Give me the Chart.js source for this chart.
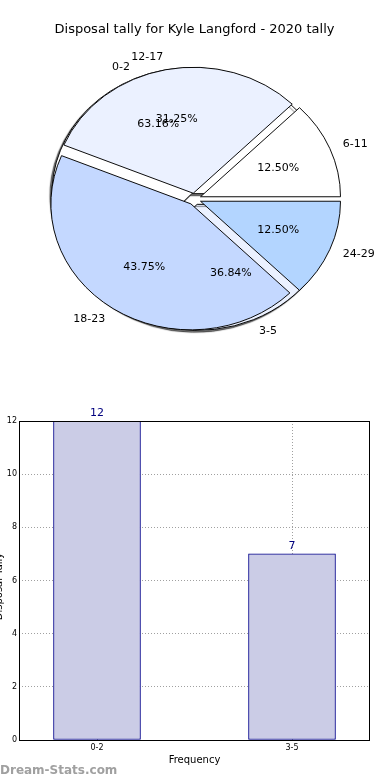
<!DOCTYPE html>
<html>
<head>
<meta charset="utf-8">
<script src="https://cdn.jsdelivr.net/npm/chart.js@4/dist/chart.umd.min.js"></script>
<style>
  html, body { margin: 0; padding: 0; background: #fff; }
  #wrap { position: relative; width: 390px; height: 780px; overflow: hidden; }
  canvas { position: absolute; left: 0; }
</style>
</head>
<body>
<div id="wrap">
  <canvas id="pieInner" width="390" height="398" style="top:0"></canvas>
  <canvas id="pieOuter" width="390" height="398" style="top:0"></canvas>
  <canvas id="bars" width="390" height="384" style="top:396px"></canvas>
</div>
<script>
'use strict';

const TITLE = 'Disposal tally for Kyle Langford - 2020 tally';

const INNER_LABELS = ['0-2', '3-5'];
const INNER_VALUES = [12, 7];
const INNER_COLORS = ['#ffffff', '#ebf1ff'];

const OUTER_LABELS = ['6-11', '12-17', '18-23', '24-29'];
const OUTER_VALUES = [2, 5, 7, 2];
const OUTER_COLORS = ['#ffffff', '#ebf1ff', '#c4d8ff', '#b3d5ff'];

const BAR_LABELS = ['0-2', '3-5'];
const BAR_VALUES = [12, 7];

const Y_SCALE = 0.9;   // pie is drawn a bit flatter than wide
const EXPLODE = 6.5;   // px each wedge is pushed out

Chart.defaults.font.family = '"DejaVu Sans", sans-serif';
Chart.defaults.color = '#000';

// matplotlib goes counter-clockwise from 3 o'clock, chart.js clockwise -> reverse
const rev = a => a.slice().reverse();

// chart.js "offset" also grows big arcs, so explode by translating each arc instead
function explodeArcs(chart) {
  chart.getDatasetMeta(0).data.forEach(arc => {
    if (arc._exploded) return;
    arc._exploded = true;
    const base = arc.draw;
    arc.draw = function (ctx) {
      const mid = (this.startAngle + this.endAngle) / 2;
      ctx.save();
      ctx.translate(Math.cos(mid) * EXPLODE, Math.sin(mid) * EXPLODE);
      base.call(this, ctx);
      ctx.restore();
    };
  });
}

const squash = shadow => ({
  id: 'squash',
  beforeDatasetsDraw(chart) {
    explodeArcs(chart);
    const a = chart.chartArea, ctx = chart.ctx;
    const cy = (a.top + a.bottom) / 2;
    ctx.save();
    ctx.translate(0, cy);
    ctx.scale(1, Y_SCALE);
    ctx.translate(0, -cy);
    if (shadow) {
      ctx.shadowColor = 'rgba(0,0,0,0.55)';
      ctx.shadowOffsetX = -2;
      ctx.shadowOffsetY = 2;
      ctx.shadowBlur = 1;
    }
  },
  afterDatasetsDraw(chart) {
    chart.ctx.restore();
  }
});

function drawPieText(ctx, chart) {
  const meta = chart.getDatasetMeta(0);
  const vals = chart.data.datasets[0].data;
  const total = vals.reduce((s, v) => s + v, 0);
  ctx.save();
  ctx.font = '11px "DejaVu Sans"';
  ctx.fillStyle = '#000';
  ctx.textBaseline = 'middle';
  meta.data.forEach((arc, i) => {
    const p = arc.getProps(['x', 'y', 'startAngle', 'endAngle', 'outerRadius'], true);
    const mid = (p.startAngle + p.endAngle) / 2;
    const c = Math.cos(mid), s = Math.sin(mid);
    const r1 = EXPLODE + 1.1 * p.outerRadius;
    ctx.textAlign = c > 0 ? 'left' : 'right';
    ctx.fillText(chart.data.labels[i], p.x + c * r1, p.y + s * r1 * Y_SCALE);
    const r2 = EXPLODE + 0.6 * p.outerRadius;
    ctx.textAlign = 'center';
    ctx.fillText((vals[i] / total * 100).toFixed(2) + '%', p.x + c * r2, p.y + s * r2 * Y_SCALE);
  });
  ctx.restore();
}

const pieOpts = (padding, title) => ({
  responsive: false,
  animation: false,
  rotation: 90,
  radius: 140,
  layout: { padding: padding },
  plugins: {
    legend: { display: false },
    tooltip: { enabled: false },
    title: title
  }
});

const innerChart = new Chart(document.getElementById('pieInner'), {
  type: 'pie',
  data: {
    labels: rev(INNER_LABELS),
    datasets: [{
      data: rev(INNER_VALUES),
      backgroundColor: rev(INNER_COLORS),
      borderColor: '#000',
      borderWidth: 1
    }]
  },
  options: pieOpts({ top: 37.6, bottom: 37.6, right: 1 }, { display: false }),
  plugins: [squash(true)]
});

new Chart(document.getElementById('pieOuter'), {
  type: 'pie',
  data: {
    labels: rev(OUTER_LABELS),
    datasets: [{
      data: rev(OUTER_VALUES),
      backgroundColor: rev(OUTER_COLORS),
      borderColor: '#000',
      borderWidth: 1
    }]
  },
  options: pieOpts({ bottom: 37.6, right: 1 }, {
    display: true,
    text: TITLE,
    font: { size: 13, weight: 'normal' },
    color: '#000',
    padding: { top: 22, bottom: 0 }
  }),
  plugins: [squash(false), {
    id: 'pieText',
    afterDraw(chart) {
      drawPieText(chart.ctx, innerChart);
      drawPieText(chart.ctx, chart);
    }
  }]
});

// ---- bar chart ----
const barExtras = {
  id: 'barExtras',
  afterDraw(chart) {
    const ctx = chart.ctx, a = chart.chartArea;
    ctx.save();
    ctx.strokeStyle = '#000';
    ctx.lineWidth = 1;
    ctx.strokeRect(a.left + 0.5, a.top + 0.5, a.right - a.left - 1, a.bottom - a.top);

    ctx.fillStyle = '#00007f';
    ctx.font = '11px "DejaVu Sans"';
    ctx.textAlign = 'center';
    ctx.textBaseline = 'bottom';
    chart.getDatasetMeta(0).data.forEach((bar, i) => {
      ctx.fillText(String(BAR_VALUES[i]), bar.x, bar.y - 2);
    });

    // y title sits mostly off the left edge, as in the original
    ctx.fillStyle = '#000';
    ctx.font = '10px "DejaVu Sans"';
    ctx.textBaseline = 'middle';
    ctx.translate(-1, (a.top + a.bottom) / 2 + 6);
    ctx.rotate(-Math.PI / 2);
    ctx.fillText('Disposal Tally', 0, 0);
    ctx.restore();

    ctx.save();
    ctx.fillStyle = '#a0a0a0';
    ctx.font = 'bold 12px "DejaVu Sans"';
    ctx.textAlign = 'left';
    ctx.textBaseline = 'middle';
    ctx.fillText('Dream-Stats.com', 0, 375);
    ctx.restore();
  }
};

new Chart(document.getElementById('bars'), {
  type: 'bar',
  data: {
    datasets: [{
      data: BAR_VALUES.map((v, i) => ({ x: i, y: v })),
      backgroundColor: '#cbcce6',
      borderColor: '#00008b',
      borderWidth: 1,
      borderSkipped: false,
      barThickness: 87
    }]
  },
  options: {
    responsive: false,
    animation: false,
    layout: { padding: { top: 25, right: 20 } },
    plugins: { legend: { display: false }, tooltip: { enabled: false } },
    scales: {
      x: {
        type: 'linear',
        min: -0.4,
        max: 1.4,
        offset: false,
        z: 1,
        afterBuildTicks: s => { s.ticks = BAR_LABELS.map((l, i) => ({ value: i })); },
        afterFit: s => { s.height = 40; },
        ticks: {
          callback: v => BAR_LABELS[v],
          font: { size: 8 },
          color: '#000',
          padding: 3,
          maxRotation: 0
        },
        grid: { color: '#a0a0a0', drawTicks: false, offset: false },
        border: { display: false, dash: [1, 2] },
        title: {
          display: true,
          text: 'Frequency',
          font: { size: 10 },
          color: '#000',
          padding: { top: 0, bottom: 14 }
        }
      },
      y: {
        min: 0,
        max: 12,
        z: 1,
        afterFit: s => { s.width = 19; },
        ticks: { stepSize: 2, font: { size: 8 }, color: '#000', padding: 2 },
        grid: { color: '#a0a0a0', drawTicks: false },
        border: { display: false, dash: [1, 2] }
      }
    }
  },
  plugins: [barExtras]
});
</script>
</body>
</html>
